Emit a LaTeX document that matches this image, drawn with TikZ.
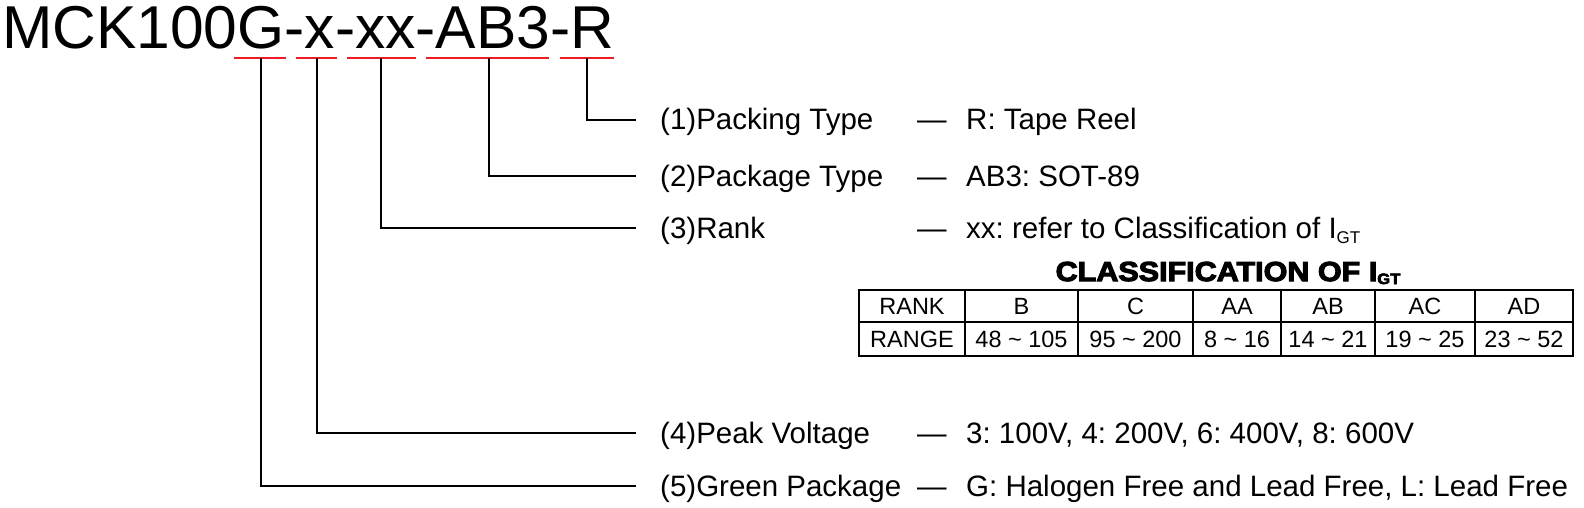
\documentclass[tikz,border=0pt]{standalone}
\usepackage{fontspec}
\setmainfont{Liberation Sans}
\newfontfamily\labfont{Liberation Sans}
\newfontfamily\tblfont{Liberation Sans}
\newfontfamily\hdfont[FakeStretch=1.11,BoldFeatures={FakeBold=4}]{Liberation Sans}
\definecolor{ured}{RGB}{237,28,36}
\frenchspacing
\begin{document}
\frenchspacing
\begin{tikzpicture}[x=1pt,y=-1pt,
  lab/.style={anchor=base west,inner sep=0pt,font=\labfont\fontsize{29.5}{29.5}\selectfont},
  cell/.style={anchor=base,inner sep=0pt,font=\tblfont\fontsize{23.5}{23.5}\selectfont},
  conn/.style={line width=2pt},
  uline/.style={draw=ured,line width=1.3pt},
  gridline/.style={line width=2pt}]
\useasboundingbox (0,0) rectangle (1584,508);

% part number
\node[anchor=base west,inner sep=0pt,font=\fontsize{60.5}{60.5}\selectfont] (title) at (2,49) {MCK100G-x-xx-AB3-R};

% red underlines
\draw[uline] (234,58) -- (286,58);
\draw[uline] (296,58) -- (337,58);
\draw[uline] (347,58) -- (416,58);
\draw[uline] (426,58) -- (549,58);
\draw[uline] (560,58) -- (614,58);

\coordinate (uG) at (261,58);
\coordinate (uX) at (317,58);
\coordinate (uXX) at (381,58);
\coordinate (uAB) at (489,58);
\coordinate (uR) at (587,58);

\coordinate (e1) at (636,120);
\coordinate (e2) at (636,176);
\coordinate (e3) at (636,228);
\coordinate (e4) at (636,433);
\coordinate (e5) at (636,486);

\draw[conn] (uR) |- (e1);
\draw[conn] (uAB) |- (e2);
\draw[conn] (uXX) |- (e3);
\draw[conn] (uX) |- (e4);
\draw[conn] (uG) |- (e5);

% labels
\node[lab] (l1) at (660,130) {(1)Packing Type};
\node[lab] (l2) at (660,186) {(2)Package Type};
\node[lab] (l3) at (660,238) {(3)Rank};
\node[lab] (l4) at (660,443) {(4)Peak Voltage};
\node[lab] (l5) at (660,496) {(5)Green Package};

\node[lab] (d1) at (917,130) {—};
\node[lab] (d2) at (917,186) {—};
\node[lab] (d3) at (917,238) {—};
\node[lab] (d4) at (917,443) {—};
\node[lab] (d5) at (917,496) {—};

\node[lab] (v1) at (966,130) {R: Tape Reel};
\node[lab] (v2) at (966,186) {AB3: SOT-89};
\node[lab] (v3) at (966,238) {xx: refer to Classification of I\raisebox{-5pt}{\fontsize{17}{17}\selectfont GT}};
\node[lab] (v4) at (966,443) {3: 100V, 4: 200V, 6: 400V, 8: 600V};
\node[lab] (v5) at (966,496) {G: Halogen Free and Lead Free, L: Lead Free};

% classification table
\node[anchor=base,inner sep=0pt,font=\hdfont\bfseries\fontsize{27.5}{27.5}\selectfont] (th) at (1228,281) {CLASSIFICATION OF I\raisebox{-3pt}{\fontsize{15}{15}\selectfont GT}};

\draw[gridline] (859,290) rectangle (1573,355.5);
\draw[gridline] (859,322) -- (1573,322);
\foreach \x in {965,1078,1193,1281,1375,1475} {
  \draw[gridline] (\x,290) -- (\x,355.5);
}

\node[cell] (r1c1) at (912,314.5) {RANK};
\node[cell] (r1c2) at (1021.5,314.5) {B};
\node[cell] (r1c3) at (1135.5,314.5) {C};
\node[cell] (r1c4) at (1237,314.5) {AA};
\node[cell] (r1c5) at (1328,314.5) {AB};
\node[cell] (r1c6) at (1425,314.5) {AC};
\node[cell] (r1c7) at (1524,314.5) {AD};

\node[cell] (r2c1) at (912,347) {RANGE};
\node[cell] (r2c2) at (1021.5,347) {48 \textasciitilde{} 105};
\node[cell] (r2c3) at (1135.5,347) {95 \textasciitilde{} 200};
\node[cell] (r2c4) at (1237,347) {8 \textasciitilde{} 16};
\node[cell] (r2c5) at (1328,347) {14 \textasciitilde{} 21};
\node[cell] (r2c6) at (1425,347) {19 \textasciitilde{} 25};
\node[cell] (r2c7) at (1524,347) {23 \textasciitilde{} 52};
\end{tikzpicture}
\end{document}
